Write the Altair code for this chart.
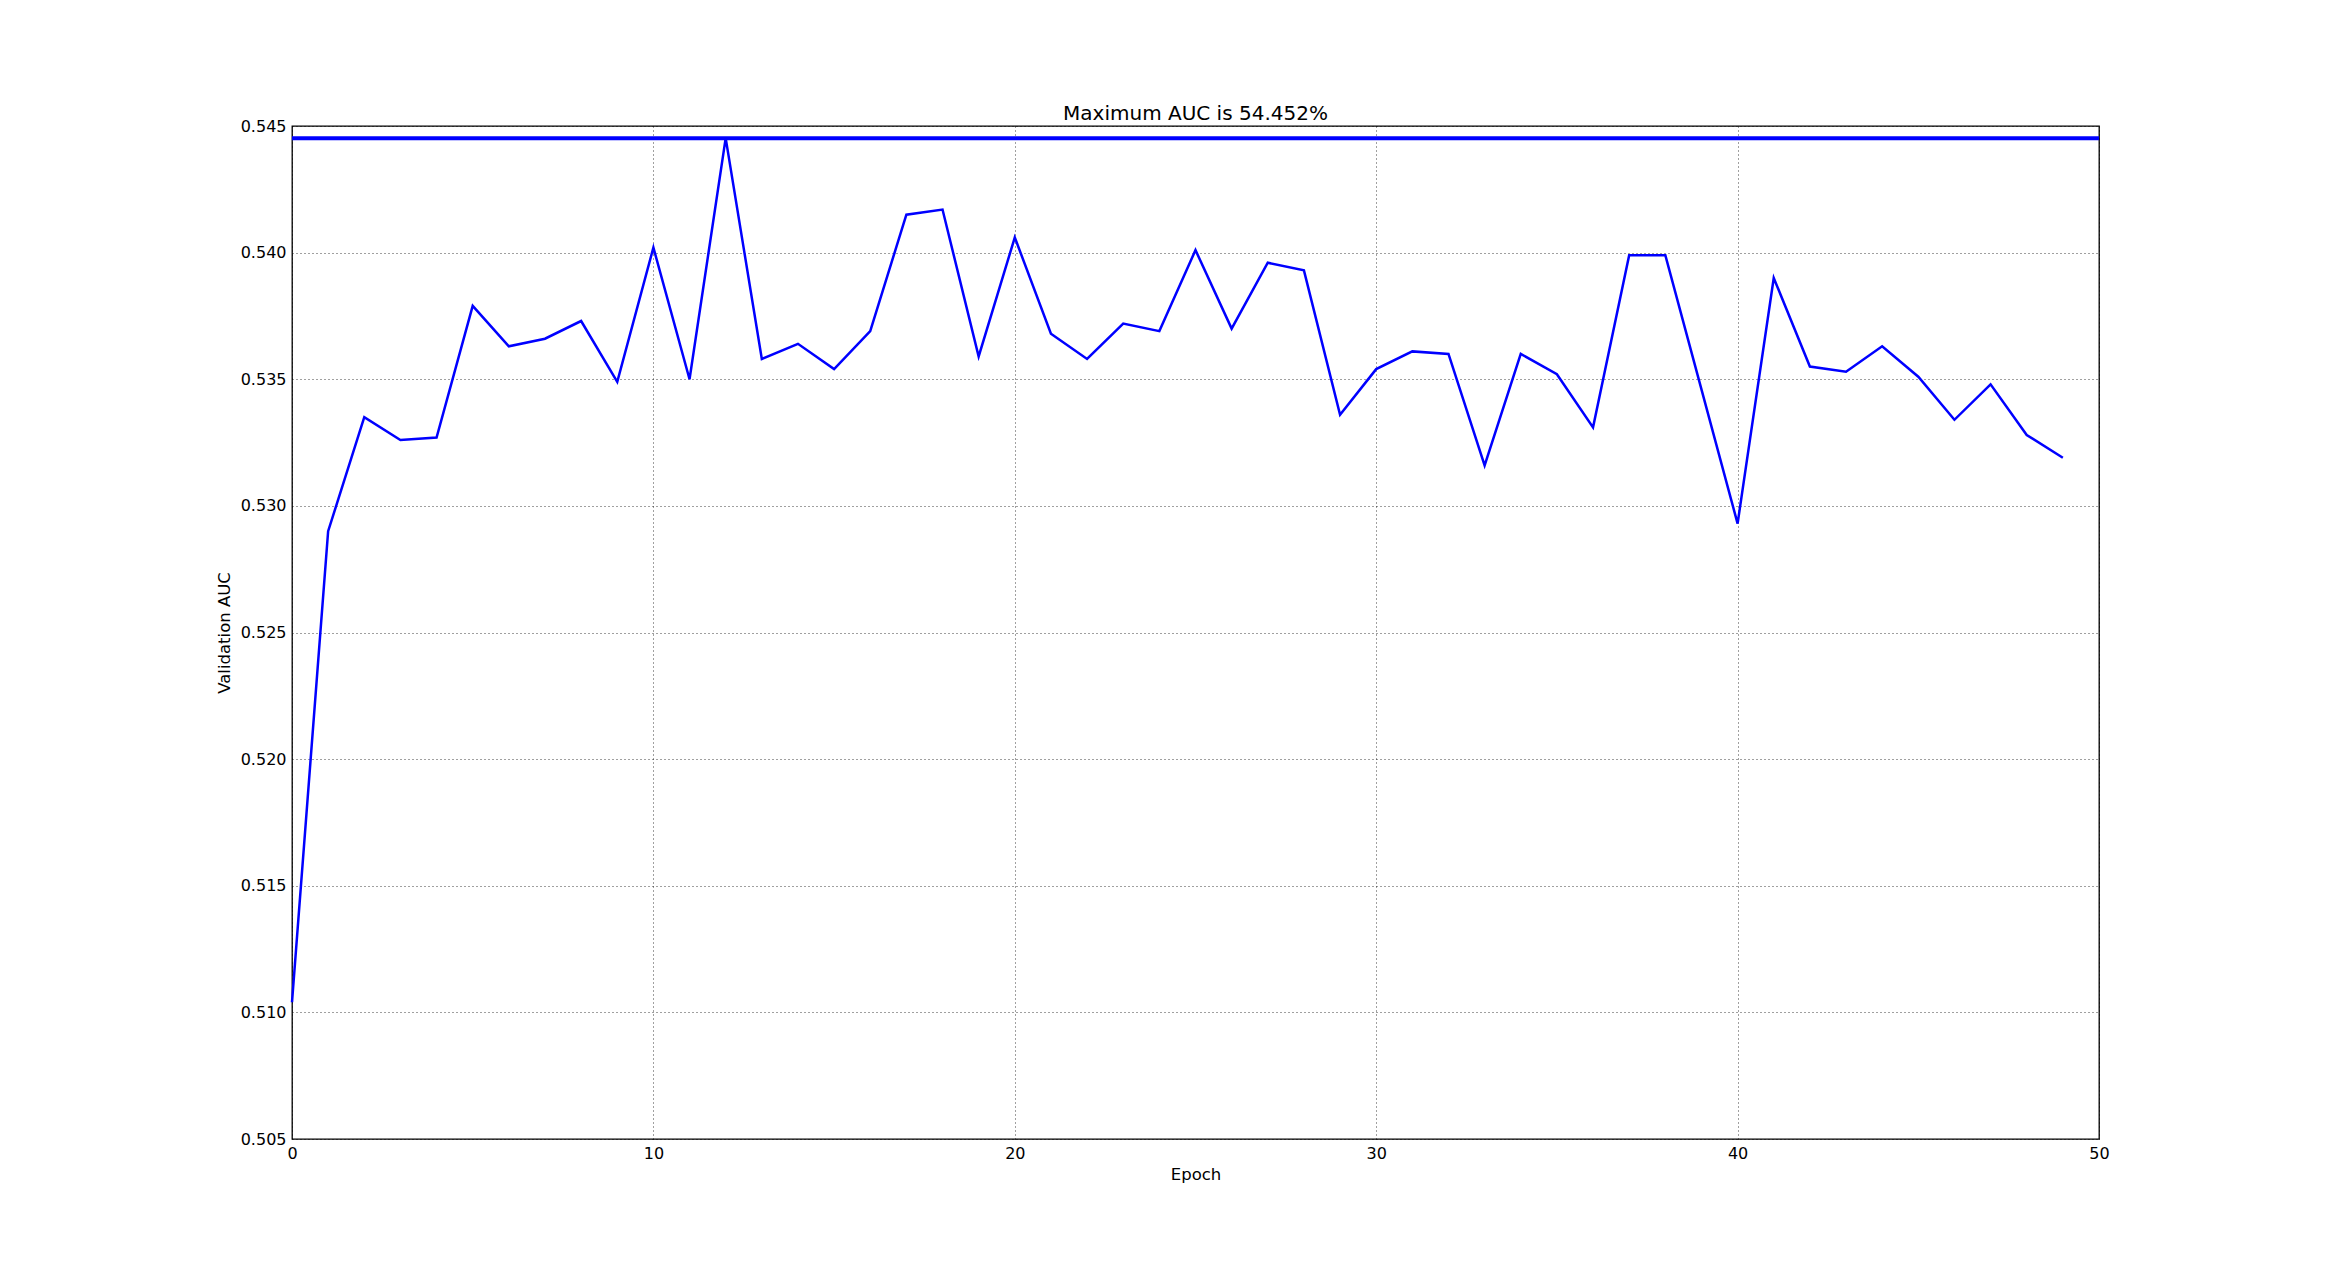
import altair as alt
import pandas as pd

epochs = list(range(50))
auc = [0.5104, 0.5290, 0.5335, 0.5326, 0.5327, 0.5379, 0.5363, 0.5366, 0.5373, 0.5349,
       0.5402, 0.5350, 0.54452, 0.5358, 0.5364, 0.5354, 0.5369, 0.5415, 0.5417, 0.5359,
       0.5406, 0.5368, 0.5358, 0.5372, 0.5369, 0.5401, 0.5370, 0.5396, 0.5393, 0.5336,
       0.5354, 0.5361, 0.5360, 0.5316, 0.5360, 0.5352, 0.5331, 0.5399, 0.5399, 0.5346,
       0.5293, 0.5390, 0.5355, 0.5353, 0.5363, 0.5351, 0.5334, 0.5348, 0.5328, 0.5319]
max_auc = [0.54452]
x_ticks = [0, 10, 20, 30, 40, 50]
y_ticks = [0.505, 0.510, 0.515, 0.520, 0.525, 0.530, 0.535, 0.540, 0.545]
title_text = "Maximum AUC is 54.452%"

df = pd.DataFrame({"epoch": epochs, "auc": auc})
max_df = pd.DataFrame({"auc": max_auc})

FONT = "DejaVu Sans"

x_enc = alt.X("epoch:Q",
              scale=alt.Scale(domain=[0, 50], nice=False, zero=False),
              axis=alt.Axis(values=x_ticks, format="d", title="Epoch"))
y_enc = alt.Y("auc:Q",
              scale=alt.Scale(domain=[0.505, 0.545], nice=False, zero=False),
              axis=alt.Axis(values=y_ticks, format=".3f", title="Validation AUC"))

line = alt.Chart(df).mark_line(color="#0000ff", strokeWidth=2.5).encode(x=x_enc, y=y_enc)
rule = alt.Chart(max_df).mark_rule(color="#0000ff", strokeWidth=4).encode(y=alt.Y("auc:Q"))

chart = (
    alt.layer(line, rule)
    .properties(
        width=1807,
        height=1013,
        autosize=alt.AutoSizeParams(type="none"),
        padding={"left": 284, "top": 118, "right": 220, "bottom": 110},
        title=alt.TitleParams(title_text, font=FONT, fontSize=20, fontWeight="normal",
                              color="black", offset=4, dy=10),
    )
    .configure_view(stroke="black", strokeWidth=1.3)
    .configure_axis(
        labelFont=FONT, labelFontSize=16, labelColor="black", labelPadding=6,
        labelFlush=False,
        titleFont=FONT, titleFontSize=16.5, titleFontWeight="normal", titleColor="black",
        ticks=False, domain=False,
        grid=True, gridColor="#000000", gridOpacity=0.75, gridDash=[1, 3], gridWidth=1,
    )
    .configure_axisY(titlePadding=8)
    .configure_axisX(titlePadding=5)
)

chart.save("out.html", embed_options={"renderer": "svg", "actions": False})
